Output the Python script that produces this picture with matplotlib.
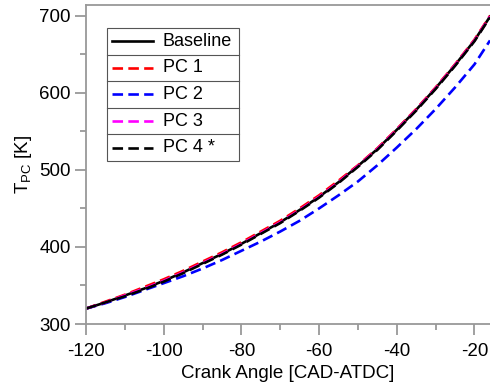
import matplotlib
matplotlib.use("Agg")
import matplotlib.pyplot as plt
from matplotlib.ticker import MultipleLocator
from matplotlib.lines import Line2D

plt.rcParams['font.family'] = ['Liberation Sans', 'DejaVu Sans']
plt.rcParams['mathtext.default'] = 'regular'
plt.rcParams['axes.unicode_minus'] = False

# crank angle [CAD-ATDC]
cad = [-120, -115, -110, -105, -100, -95, -90, -85, -80, -75, -70,
       -65, -60, -55, -50, -45, -40, -35, -30, -25, -20, -16]

# piston crown temperature [K]
baseline = [320, 328, 337, 346, 356, 367, 379, 391, 404, 418, 432,
            448, 465, 484, 505, 527, 552, 578, 606, 636, 668, 699]
pc1 = [320, 329, 338, 348, 358, 369, 381, 393, 406, 420, 434,
       450, 467, 486, 506, 528, 553, 579, 607, 637, 669, 700]
pc2 = [320, 327, 335, 344, 353, 362, 372, 383, 395, 407, 420,
       434, 450, 467, 485, 506, 529, 553, 579, 607, 637, 668]
pc3 = [320, 328, 337, 346, 356, 367, 379, 391, 404, 418, 432,
       448, 465, 484, 505, 527, 552, 578, 606, 636, 668, 699]
pc4 = [320, 328, 336, 345, 355, 366, 378, 390, 403, 417, 431,
       447, 464, 483, 504, 526, 551, 577, 605, 635, 667, 698]

names = ["Baseline", "PC 1", "PC 2", "PC 3", "PC 4 *"]
series = [baseline, pc1, pc2, pc3, pc4]
colors = ["black", "#ff0000", "#0000ff", "#ff00ff", "black"]
dashed = [False, True, True, True, True]

fig = plt.figure(figsize=(4.9, 3.86), dpi=100)
ax = fig.add_axes([0.1755, 0.1606, 0.8245, 0.8264])

lw = 1.9
for vals, col, dsh in zip(series, colors, dashed):
    if dsh:
        ax.plot(cad, vals, color=col, lw=lw, dashes=(4, 2))
    else:
        ax.plot(cad, vals, color=col, lw=lw)

ax.set_xlim(-120, -16)
ax.set_ylim(300, 714)
ax.xaxis.set_major_locator(MultipleLocator(20))
ax.xaxis.set_minor_locator(MultipleLocator(10))
ax.yaxis.set_major_locator(MultipleLocator(100))
ax.yaxis.set_minor_locator(MultipleLocator(50))

grey = "#999999"
for s in ["left", "bottom", "top"]:
    ax.spines[s].set_color(grey)
    ax.spines[s].set_linewidth(1.3)
ax.spines["right"].set_visible(False)
ax.tick_params(which="major", direction="out", length=8, width=1.3, color=grey,
               labelsize=13.5, labelcolor="black", pad=3)
ax.tick_params(axis="x", which="major", pad=6)
ax.tick_params(which="minor", direction="out", length=4.5, width=1.3, color=grey)
ax.tick_params(top=False, right=False, which="both")

ax.set_xlabel("Crank Angle [CAD-ATDC]", fontsize=13.5, labelpad=3)
ax.set_ylabel("T$_{PC}$ [K]", fontsize=13.5, labelpad=4)

# table-like legend box
x0, x1 = 0.052, 0.379
y_top, y_bot = 0.928, 0.511
row_h = (y_top - y_bot) / len(names)
for i, (nm, col, dsh) in enumerate(zip(names, colors, dashed)):
    yc = y_top - (i + 0.5) * row_h
    ln = Line2D([x0 + 0.012, x0 + 0.114], [yc, yc], transform=ax.transAxes,
                color=col, lw=lw)
    if dsh:
        ln.set_dashes((4, 2))
    ax.add_line(ln)
    ax.text(x0 + 0.138, yc, nm, transform=ax.transAxes, fontsize=13,
            va="center", ha="left")
    if i > 0:
        ax.add_line(Line2D([x0, x1], [y_top - i * row_h] * 2,
                           transform=ax.transAxes, color="#555555", lw=0.8))
ax.add_patch(plt.Rectangle((x0, y_bot), x1 - x0, y_top - y_bot,
                           transform=ax.transAxes, fill=False,
                           edgecolor="#555555", lw=0.8))

fig.savefig("out.png", dpi=100)
